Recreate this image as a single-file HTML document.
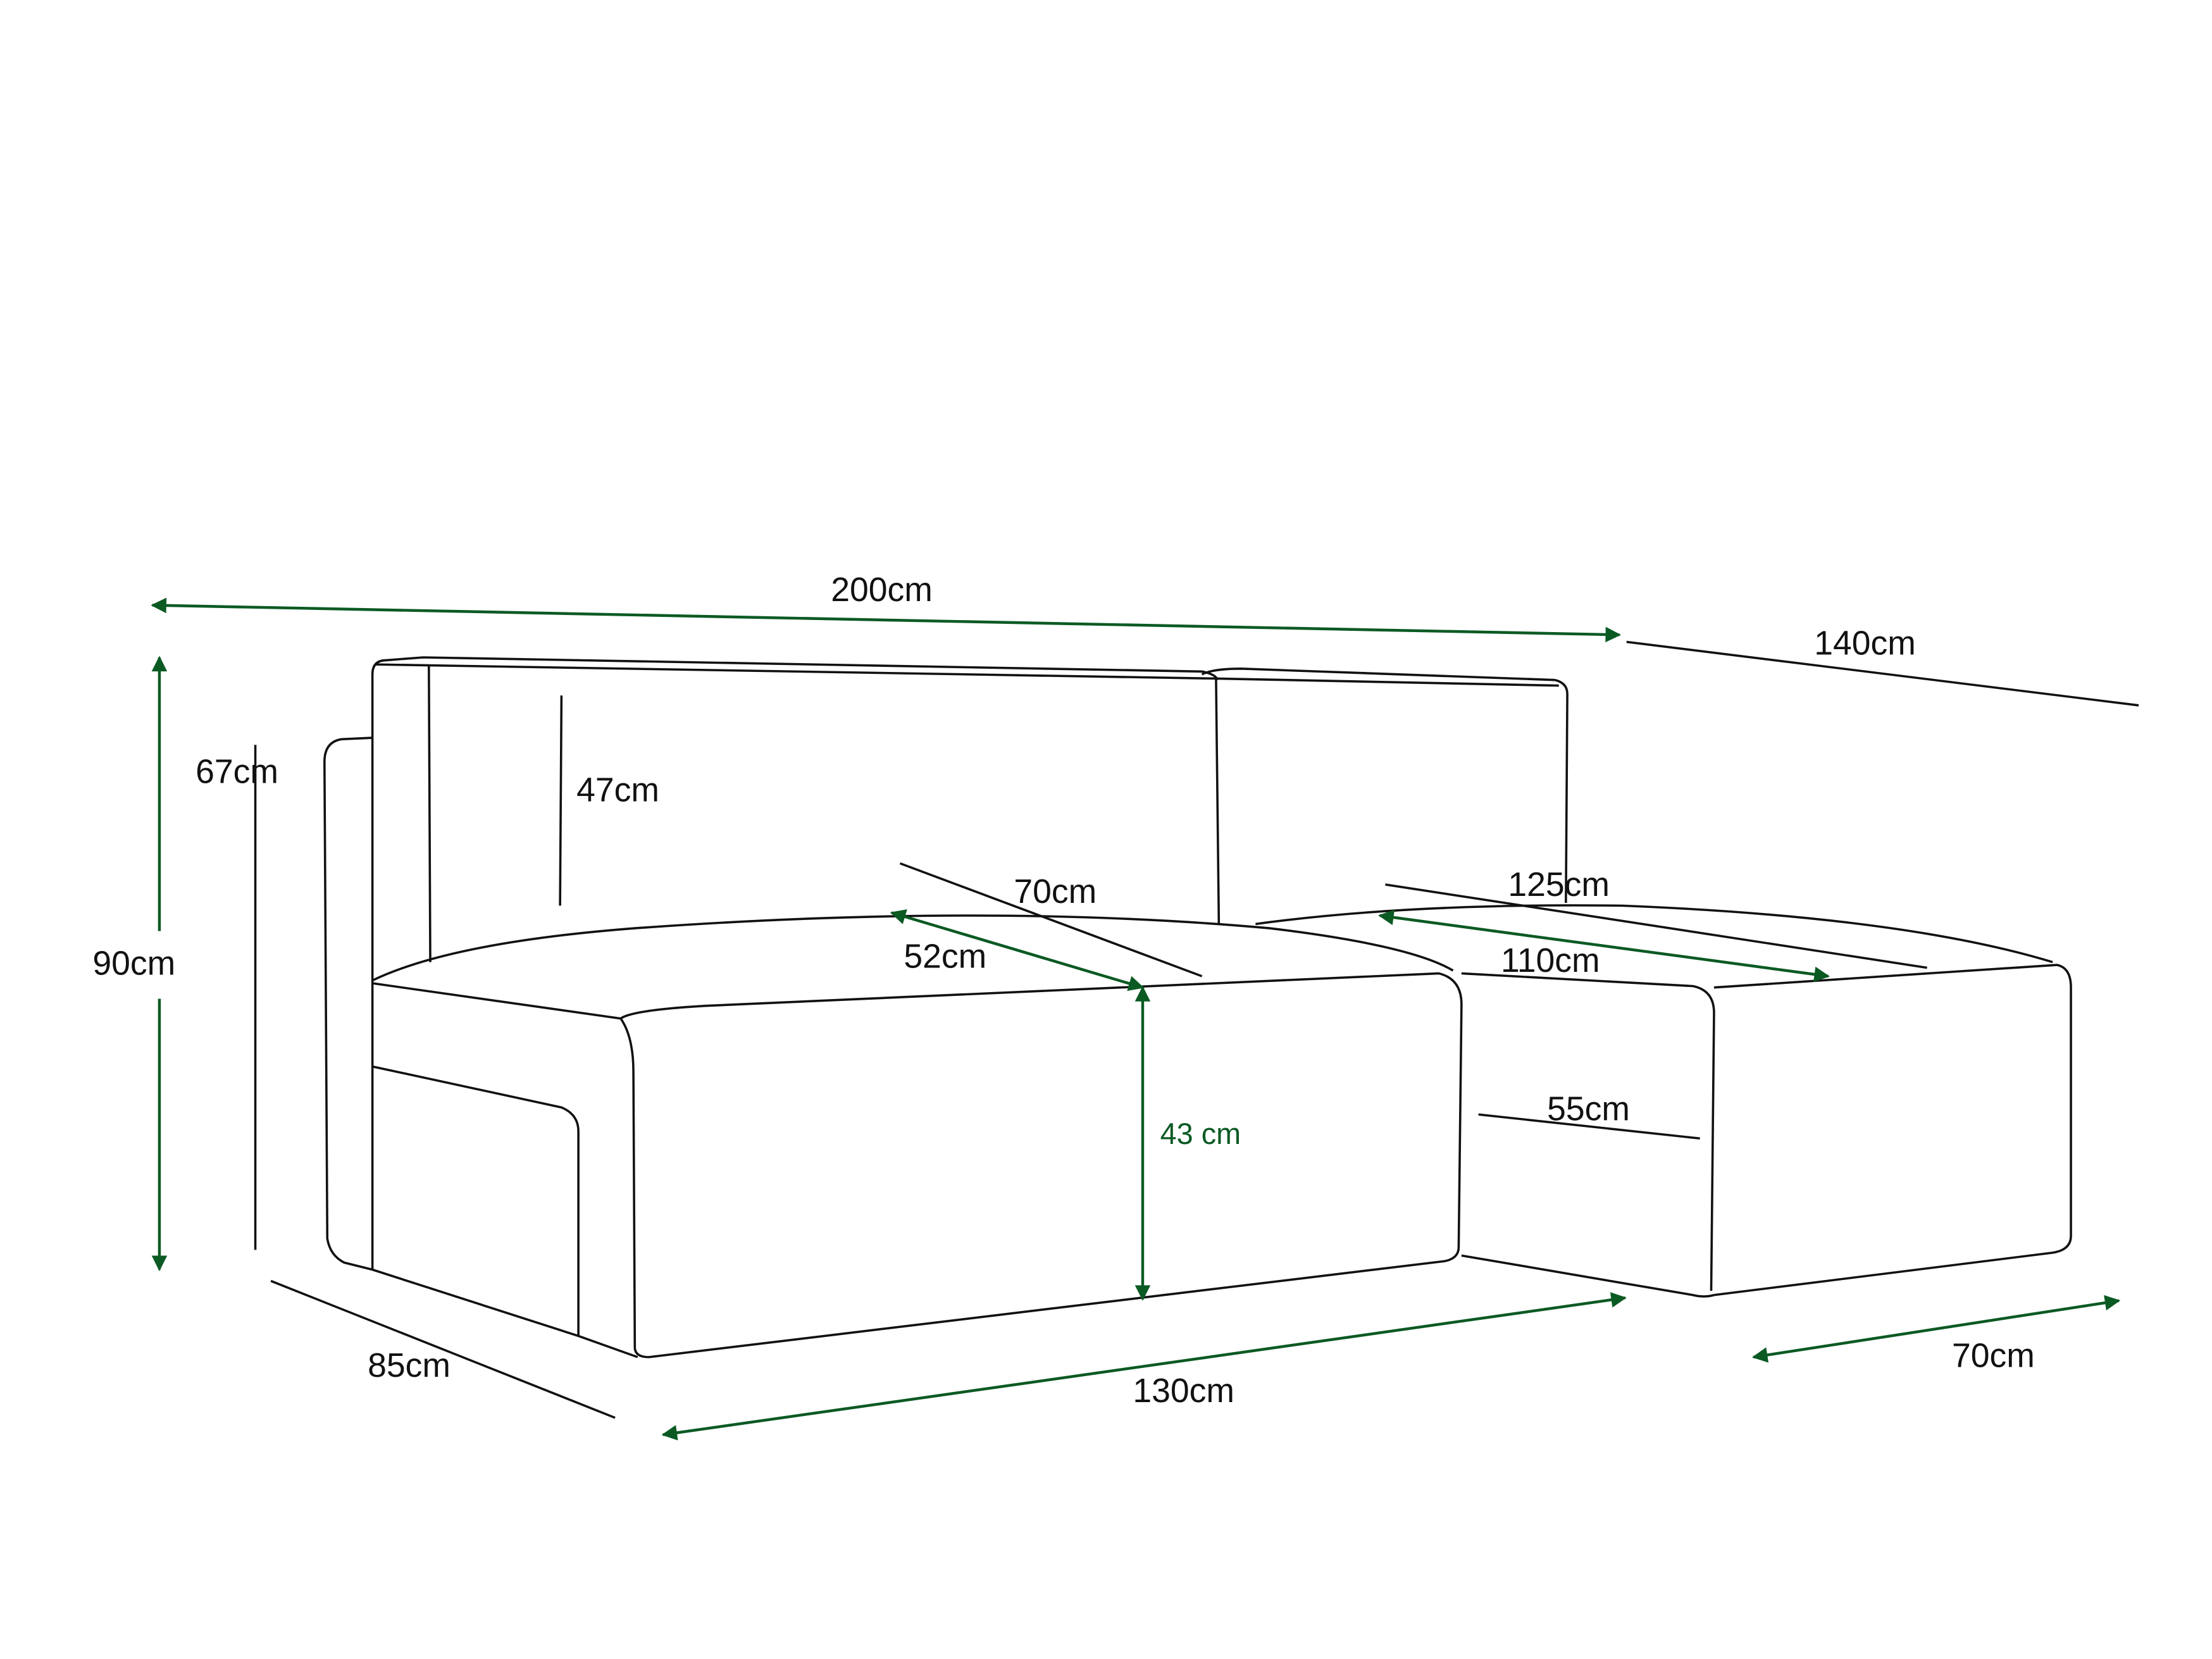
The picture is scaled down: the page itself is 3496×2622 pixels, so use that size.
<!DOCTYPE html>
<html><head><meta charset="utf-8"><style>
html,body{margin:0;padding:0;background:#fff;}
svg{display:block;}
text{font-family:"Liberation Sans",sans-serif;font-size:24px;fill:#111;text-anchor:middle;}
</style></head><body>
<svg width="3496" height="2622" viewBox="0 0 1568 1176" preserveAspectRatio="none" xmlns="http://www.w3.org/2000/svg">
<defs>
<marker id="ah" viewBox="0 0 10 10" refX="9" refY="5" markerWidth="16" markerHeight="11" orient="auto-start-reverse" markerUnits="userSpaceOnUse">
<path d="M0,0 L10,5 L0,10 z" fill="#0b5a23"/></marker>
</defs>
<rect width="1568" height="1176" fill="#fff"/>
<g fill="none" stroke="#111" stroke-width="1.6" stroke-linejoin="round">
<path d="M264,523 L242,524 Q230,526 230,540 L232,878 Q234,890 244,895 L264,900"/>
<path d="M264,900 L264,478 Q264,468 274,468 L300,466 L852,476 Q862,478 863,482"/>
<path d="M266,471 L862,481"/>
<path d="M304,471 L305,682"/>
<path d="M862,481 L864,655"/>
<path d="M852,478 Q860,474 880,474 L1102,482 Q1111,484 1111,492 L1110,640"/>
<path d="M862,481 L1105,486"/>
<path d="M264,695 Q320,668 450,658 Q700,640 900,658 Q1000,670 1030,688"/>
<path d="M264,697 L440,722 Q448,716 500,713 L1020,690 Q1036,694 1036,712 L1034,884 Q1034,892 1024,894 L460,962 Q450,962 450,955 L449,760 Q449,735 440,722"/>
<path d="M264,900 L410,947 L452,962"/>
<path d="M264,756 L398,785 Q410,790 410,802 L410,947"/>
<path d="M890,655 Q1000,640 1150,642 Q1350,650 1455,682"/>
<path d="M1036,690 L1200,699 Q1215,702 1215,718 L1213,915"/>
<path d="M1215,700 L1458,684 Q1468,686 1468,700 L1468,876 Q1468,886 1455,888 L1215,918"/>
<path d="M1036,890 L1200,918 Q1208,920 1215,918"/>
<path d="M1153,455 L1516,500"/>
<path d="M181,528 L181,886"/>
<path d="M398,493 L397,642"/>
<path d="M638,612 L852,692"/>
<path d="M982,627 L1366,686"/>
<path d="M1048,790 L1205,807"/>
<path d="M192,908 L436,1005"/>
</g>
<g stroke="#0b5a23" stroke-width="2" fill="none">
<path d="M108,429 L1148,450" marker-start="url(#ah)" marker-end="url(#ah)"/>
<path d="M113,466 L113,660" marker-start="url(#ah)"/>
<path d="M113,708 L113,900" marker-end="url(#ah)"/>
<path d="M632,647 L810,700" marker-start="url(#ah)" marker-end="url(#ah)"/>
<path d="M810,700 L810,921" marker-start="url(#ah)" marker-end="url(#ah)"/>
<path d="M978,649 L1296,692" marker-start="url(#ah)" marker-end="url(#ah)"/>
<path d="M470,1017 L1152,920" marker-start="url(#ah)" marker-end="url(#ah)"/>
<path d="M1243,962 L1502,922" marker-start="url(#ah)" marker-end="url(#ah)"/>
</g>
<text x="625" y="426">200cm</text>
<text x="1322" y="464">140cm</text>
<text x="95" y="691">90cm</text>
<text x="168" y="555">67cm</text>
<text x="438" y="568">47cm</text>
<text x="748" y="640">70cm</text>
<text x="670" y="686">52cm</text>
<text x="851" y="811" style="fill:#0b5a23;font-size:21px">43 cm</text>
<text x="1105" y="635">125cm</text>
<text x="1099" y="689">110cm</text>
<text x="1126" y="794">55cm</text>
<text x="290" y="976">85cm</text>
<text x="839" y="994">130cm</text>
<text x="1413" y="969">70cm</text>
</svg>
</body></html>
